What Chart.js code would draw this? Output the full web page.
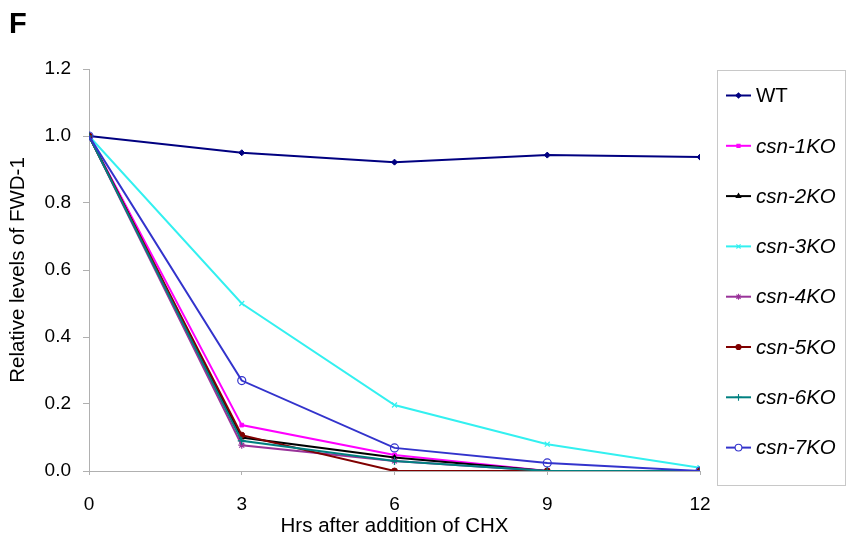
<!DOCTYPE html>
<html>
<head>
<meta charset="utf-8">
<script src="https://cdn.jsdelivr.net/npm/chart.js@4/dist/chart.umd.min.js"></script>
<style>
  html,body{margin:0;padding:0;background:#fff;}
  #c{display:block;}
</style>
</head>
<body>
<canvas id="c" width="849" height="539"></canvas>
<script>
/* DATA */
const hours = [0, 3, 6, 9, 12];
const seriesNames = ["WT","csn-1KO","csn-2KO","csn-3KO","csn-4KO","csn-5KO","csn-6KO","csn-7KO"];
const wt   = [1.0, 0.95, 0.922, 0.943, 0.937];
const csn1 = [1.0, 0.137, 0.048, 0.0, 0.0];
const csn2 = [1.0, 0.10, 0.04, 0.0, 0.0];
const csn3 = [1.0, 0.50, 0.197, 0.08, 0.01];
const csn4 = [1.0, 0.077, 0.03, 0.0, 0.0];
const csn5 = [1.0, 0.107, 0.0, 0.0, 0.0];
const csn6 = [1.0, 0.09, 0.03, 0.0, 0.0];
const csn7 = [1.0, 0.27, 0.069, 0.024, 0.0];
const yTicks = [0, 0.2, 0.4, 0.6, 0.8, 1.0, 1.2];

const values = [wt, csn1, csn2, csn3, csn4, csn5, csn6, csn7];
const colors = ["#000080","#ff00ff","#000000","#33f0f0","#993399","#800000","#008080","#3333cc"];
const styles = [
  {pointStyle:"rectRot",  radius:3,   fill:true},
  {pointStyle:"rect",     radius:2.6, fill:true},
  {pointStyle:"triangle", radius:3,   fill:true},
  {pointStyle:"crossRot", radius:3.5, fill:false},
  {pointStyle:"star",     radius:3.5, fill:false},
  {pointStyle:"circle",   radius:3,   fill:true},
  {pointStyle:"cross",    radius:4,   fill:false},
  {pointStyle:"circle",   radius:4,   fill:false}
];

const FONT = "'Liberation Sans', Arial, sans-serif";

const datasets = values.map((vals, i) => ({
  label: seriesNames[i],
  data: hours.map((h, j) => ({x: h, y: vals[j]})),
  borderColor: colors[i],
  backgroundColor: styles[i].fill ? colors[i] : "rgba(255,255,255,0)",
  borderWidth: 2,
  pointStyle: styles[i].pointStyle,
  pointRadius: styles[i].radius,
  pointBorderWidth: styles[i].fill ? 1 : 1.2,
  pointBorderColor: colors[i],
  pointBackgroundColor: styles[i].fill ? colors[i] : "rgba(255,255,255,0)",
  tension: 0,
  order: values.length - i
}));

/* LEGEND + PANEL LABEL */
const extras = {
  id: "extras",
  afterDraw(chart) {
    const ctx = chart.ctx;
    ctx.save();
    // panel label
    ctx.fillStyle = "#000";
    ctx.font = "bold 29px " + FONT;
    ctx.textBaseline = "alphabetic";
    ctx.fillText("F", 9, 33);
    // legend box
    ctx.strokeStyle = "#c8c8c8";
    ctx.lineWidth = 1;
    ctx.strokeRect(717.5, 70.5, 128, 415);
    seriesNames.forEach((name, i) => {
      const y = 95.5 + i * 50.3;
      ctx.strokeStyle = colors[i];
      ctx.lineWidth = 2;
      ctx.beginPath();
      ctx.moveTo(726, y);
      ctx.lineTo(751, y);
      ctx.stroke();
      ctx.fillStyle = styles[i].fill ? colors[i] : "#fff";
      ctx.lineWidth = 1.1;
      Chart.helpers.drawPoint(ctx, {
        pointStyle: styles[i].pointStyle,
        radius: styles[i].radius * 0.85,
        borderWidth: 1.1,
        rotation: 0
      }, 738.5, y);
      ctx.fillStyle = "#000";
      ctx.font = (i === 0 ? "" : "italic ") + "20.5px " + FONT;
      ctx.textBaseline = "middle";
      ctx.fillText(name, 756, y + 1);
    });
    ctx.restore();
  }
};

new Chart(document.getElementById("c"), {
  type: "line",
  data: { datasets },
  options: {
    responsive: false,
    animation: false,
    layout: { padding: { top: 69, right: 149, left: 0, bottom: 0 } },
    plugins: { legend: { display: false }, tooltip: { enabled: false } },
    scales: {
      x: {
        type: "linear",
        min: 0, max: 12,
        afterFit(s) { s.height = 68; },
        ticks: {
          stepSize: 3,
          color: "#000",
          font: { family: FONT, size: 19 },
          padding: 18
        },
        grid: { drawOnChartArea: false, drawTicks: true, tickLength: 4, color: "#b0b0b0" },
        border: { color: "#b0b0b0", width: 1 },
        title: {
          display: true,
          text: "Hrs after addition of CHX",
          color: "#000",
          font: { family: FONT, size: 20.5 },
          padding: { top: 0, bottom: 0 }
        }
      },
      y: {
        min: 0, max: 1.2,
        afterFit(s) { s.width = 89; },
        afterBuildTicks(s) { s.ticks = yTicks.map(v => ({value: v})); },
        ticks: {
          color: "#000",
          font: { family: FONT, size: 19 },
          padding: 12,
          callback: v => v.toFixed(1)
        },
        grid: { drawOnChartArea: false, drawTicks: true, tickLength: 6, color: "#b0b0b0" },
        border: { color: "#b0b0b0", width: 1 },
        title: {
          display: true,
          text: "Relative levels of FWD-1",
          color: "#000",
          font: { family: FONT, size: 20.5 },
          padding: { top: 6, bottom: 0 }
        }
      }
    }
  },
  plugins: [extras]
});
</script>
</body>
</html>
